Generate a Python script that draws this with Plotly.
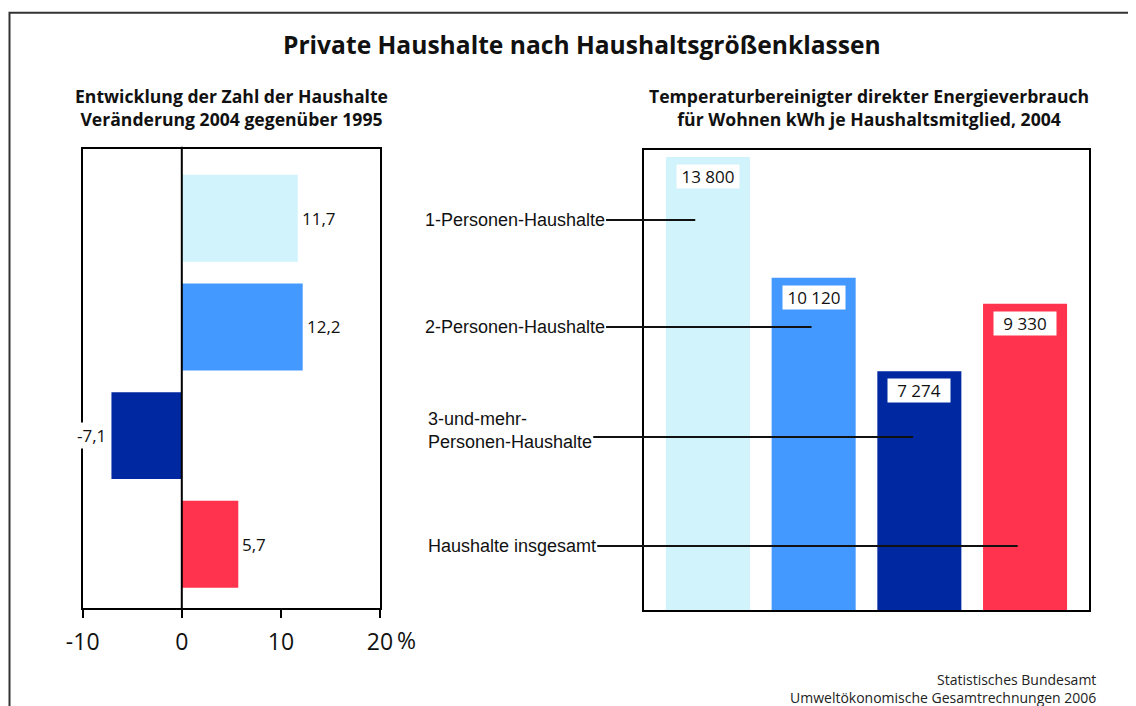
import plotly.graph_objects as go

# ---------------- data ----------------
categories = ["1-Personen-Haushalte", "2-Personen-Haushalte",
              "3-und-mehr-Personen-Haushalte", "Haushalte insgesamt"]
label_texts = ["1-Personen-Haushalte", "2-Personen-Haushalte",
               "3-und-mehr-<br>Personen-Haushalte", "Haushalte insgesamt"]
change_pct = [11.7, 12.2, -7.1, 5.7]
change_labels = ["11,7", "12,2", "-7,1", "5,7"]
energy_kwh = [13800, 10120, 7274, 9330]
energy_labels = ["13 800", "10 120", "7 274", "9 330"]
x_tickvals = [-10, 0, 10, 20]
x_ticktext = ["-10", "0", "10", "20"]

title = "Private Haushalte nach Haushaltsgrößenklassen"
sub_left = "Entwicklung der Zahl der Haushalte<br>Veränderung 2004 gegenüber 1995"
sub_right = "Temperaturbereinigter direkter Energieverbrauch<br>für Wohnen kWh je Haushaltsmitglied, 2004"
source = "Statistisches Bundesamt<br>Umweltökonomische Gesamtrechnungen 2006"

# ---------------- style ----------------
colors = ["#D1F3FC", "#4399FF", "#0029A1", "#FF334D"]
W, H = 1128, 698          # page body adds 8 px at left/top
OFF = 8


def px_x(p):
    """screen pixel -> paper x"""
    return (p - OFF) / W


def px_y(p):
    """screen pixel -> paper y"""
    return 1 - (p - OFF) / H


HEAD_FONT = "'Open Sans', 'Noto Sans', sans-serif"
NUM_FONT = "'Open Sans', 'Noto Sans', sans-serif"
ARIAL = "'Liberation Sans', Arial, sans-serif"

fig = go.Figure()

fig.add_trace(go.Bar(
    x=change_pct, y=categories, orientation="h",
    marker=dict(color=colors, line=dict(width=0)),
    width=0.8, xaxis="x", yaxis="y", hoverinfo="x+y",
))
fig.add_trace(go.Bar(
    x=categories, y=energy_kwh,
    marker=dict(color=colors, line=dict(width=0)),
    width=0.795, xaxis="x2", yaxis="y2", hoverinfo="x+y",
))

annotations = []
# titles
annotations.append(dict(text="<b>" + title + "</b>", x=px_x(581.5), y=px_y(44),
                        xref="paper", yref="paper", xanchor="center", yanchor="middle",
                        showarrow=False,
                        font=dict(family=HEAD_FONT, size=24.6, color="#111")))
annotations.append(dict(text="<b>" + sub_left + "</b>", x=px_x(231.5), y=px_y(108),
                        xref="paper", yref="paper", xanchor="center", yanchor="middle",
                        showarrow=False,
                        font=dict(family=HEAD_FONT, size=17.6, color="#111")))
annotations.append(dict(text="<b>" + sub_right + "</b>", x=px_x(868.5), y=px_y(108),
                        xref="paper", yref="paper", xanchor="center", yanchor="middle",
                        showarrow=False,
                        font=dict(family=HEAD_FONT, size=17.6, color="#111")))
annotations.append(dict(text=source, x=px_x(1098), y=px_y(688), xanchor="right",
                        yanchor="middle", align="right",
                        xref="paper", yref="paper", showarrow=False,
                        font=dict(family=NUM_FONT, size=14, color="#222")))

# left chart value labels
for cat, v, lab in zip(categories, change_pct, change_labels):
    if v >= 0:
        annotations.append(dict(text=lab, x=v, y=cat, xref="x", yref="y",
                                xanchor="left", yanchor="middle", xshift=2,
                                showarrow=False,
                                font=dict(family=NUM_FONT, size=17, color="#111")))
    else:
        annotations.append(dict(text=lab, x=v, y=cat, xref="x", yref="y",
                                xanchor="right", yanchor="middle", xshift=-3,
                                showarrow=False, bgcolor="white",
                                font=dict(family=NUM_FONT, size=17, color="#111")))
# percent sign after the last tick label
annotations.append(dict(text="%", x=x_tickvals[-1], y=px_y(640), xref="x", yref="paper",
                        xanchor="left", yanchor="middle", xshift=15, showarrow=False,
                        font=dict(family=NUM_FONT, size=23, color="#111")))

# right chart value labels (white boxes)
for i, (v, lab) in enumerate(zip(energy_kwh, energy_labels)):
    annotations.append(dict(text=lab, x=i, y=v, xref="x2", yref="y2",
                            yanchor="top", yshift=-7, showarrow=False,
                            bgcolor="white", width=62, height=23, borderpad=0,
                            font=dict(family=NUM_FONT, size=17, color="#111")))

# category labels with leader lines
head_offsets = [-0.12, -0.02, -0.06, -0.07]
line_y = [220, 327, 437, 546]
tail_x = [-2.70, -2.70, -2.67, -2.67]
for i, txt in enumerate(label_texts):
    extra = {}
    if "<br>" in txt:
        extra = dict(height=57, valign="top")
    annotations.append(dict(text=txt, x=i + head_offsets[i], y=px_y(line_y[i]),
                            xref="x2", yref="paper", axref="x2", ayref="pixel",
                            ax=tail_x[i], ay=0, xanchor="left", yanchor="middle",
                            align="left", showarrow=True, arrowhead=0,
                            arrowwidth=2, arrowcolor="#111", standoff=0,
                            font=dict(family=ARIAL, size=18, color="#111"), **extra))

shapes = [
    # outer frame
    dict(type="rect", xref="paper", yref="paper", x0=px_x(9.5), x1=1.05,
         y0=-0.1, y1=px_y(12.7), line=dict(color="#333", width=2)),
    # zero line
    dict(type="line", xref="x", yref="y domain", x0=0, x1=0, y0=0, y1=1.005,
         line=dict(color="black", width=2), layer="above"),
]

fig.update_layout(
    template="none",
    width=W, height=H,
    margin=dict(l=0, r=0, t=0, b=0, pad=0, autoexpand=False),
    paper_bgcolor="white", plot_bgcolor="white",
    showlegend=False,
    xaxis=dict(domain=[px_x(82.7), px_x(380)], range=[-10, 20],
               tickmode="array", tickvals=x_tickvals, ticktext=x_ticktext,
               ticks="outside", ticklen=8, tickwidth=2, tickcolor="black",
               ticklabelstandoff=4,
               showline=True, linecolor="black", linewidth=2, mirror=True,
               showgrid=False, zeroline=False, anchor="y", automargin=False,
               tickfont=dict(family=NUM_FONT, size=23, color="#111")),
    yaxis=dict(domain=[px_y(608.3), px_y(149)], type="category",
               categoryorder="array", categoryarray=categories,
               range=[3.589, -0.638], showticklabels=False, ticks="",
               showline=True, linecolor="black", linewidth=2, mirror=True,
               showgrid=False, zeroline=False, anchor="x", automargin=False),
    xaxis2=dict(domain=[px_x(644), px_x(1089)], type="category",
                categoryorder="array", categoryarray=categories,
                range=[-0.605, 3.605], showticklabels=False, ticks="",
                showline=True, linecolor="black", linewidth=2, mirror=True,
                showgrid=False, zeroline=False, anchor="y2", automargin=False),
    yaxis2=dict(domain=[px_y(610), px_y(150)], range=[0, 14013],
                showticklabels=False, ticks="",
                showline=True, linecolor="black", linewidth=2, mirror=True,
                showgrid=False, zeroline=False, anchor="x2", automargin=False),
    annotations=annotations,
    shapes=shapes,
)

fig.write_html("out.html",
               post_script="document.documentElement.style.overflow='hidden';"
                           "document.body.style.overflow='hidden';")
